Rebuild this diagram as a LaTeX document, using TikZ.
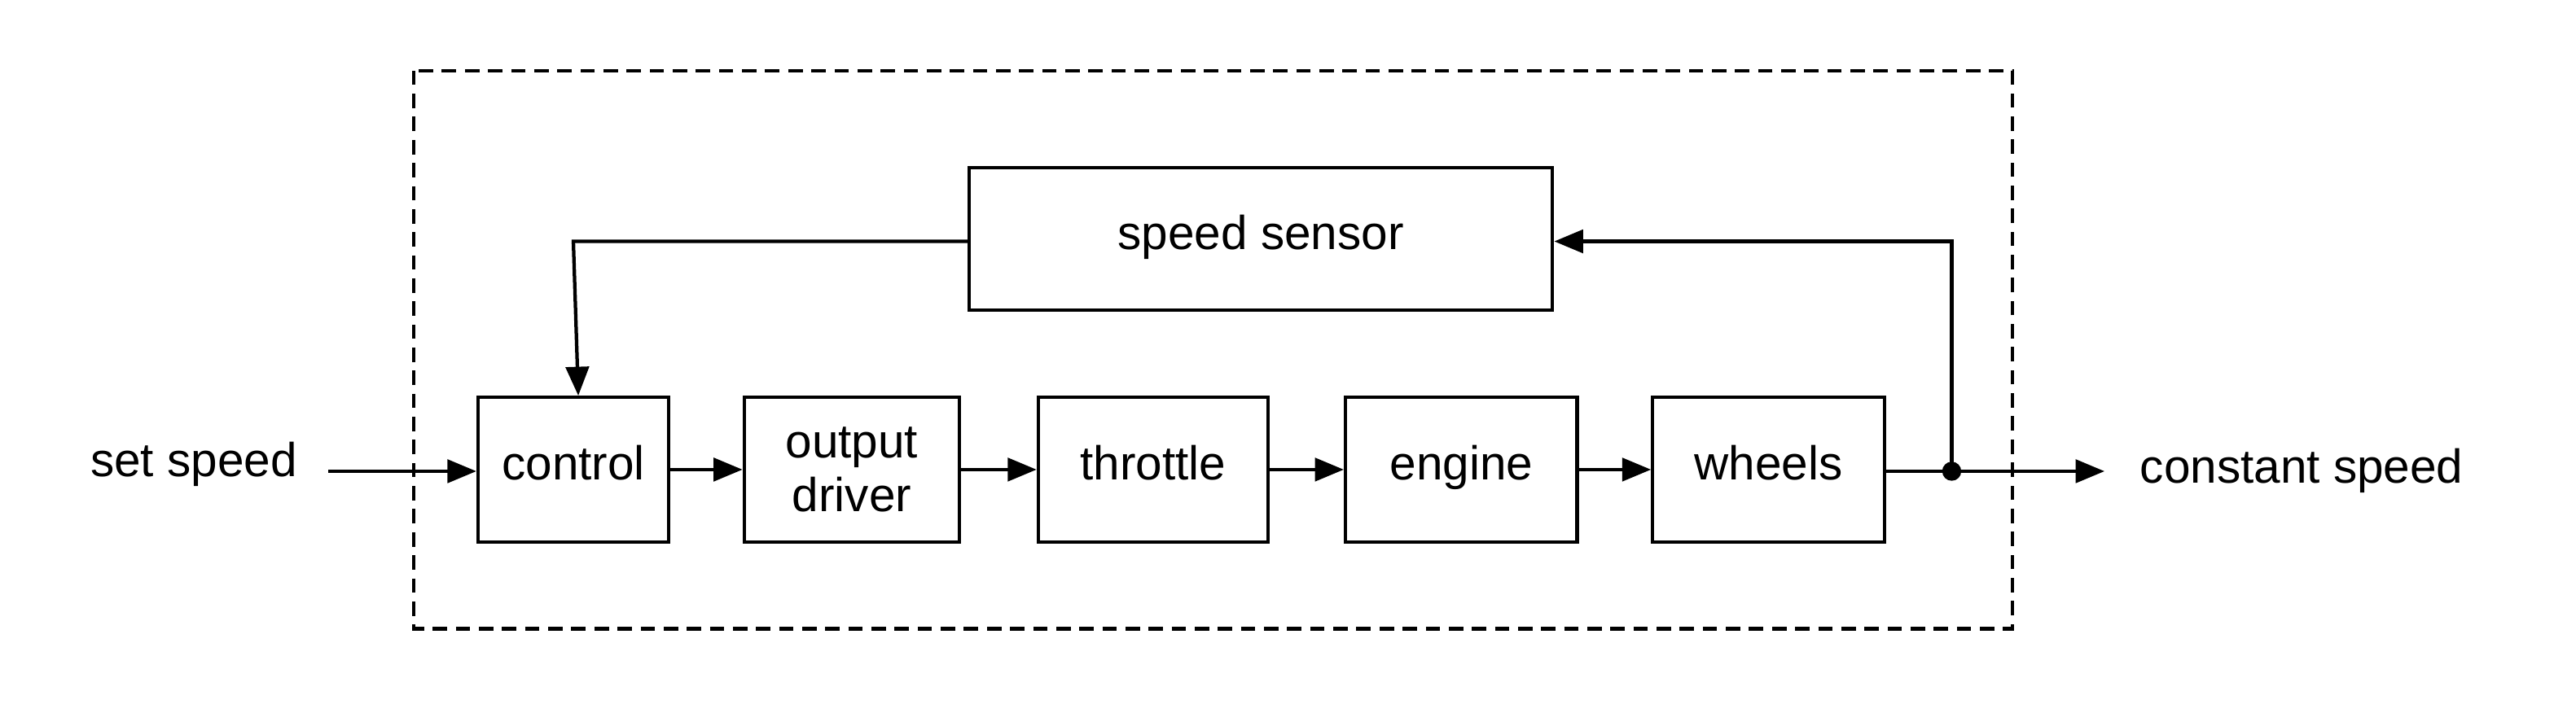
\documentclass[tikz,border=0pt]{standalone}
\usepackage{fontspec}
\setmainfont{Liberation Sans}
\usetikzlibrary{arrows.meta}
\begin{document}
\begin{tikzpicture}[x=0.02cm,y=-0.02cm,
  blk/.style={draw,line width=1.2pt,inner sep=0pt,font=\fontsize{16.5}{18.5}\selectfont,align=center},
  one/.style={text height=0.72em,text depth=0em},
  lbl/.style={font=\fontsize{16.5}{18.5}\selectfont},
  ln/.style={line width=1.2pt},
  arr/.style={ln,-{Triangle[length=10pt,width=8pt]}}]
\useasboundingbox (0,0) rectangle (1568,434);
\draw[line width=1.2pt,dash pattern=on 5pt off 3pt] (252,43) rectangle (1225,383);
\node[blk,one,minimum width=355*0.02cm,minimum height=87*0.02cm] (ss) at (767.5,145.5) {speed sensor};
\node[blk,one,minimum width=116*0.02cm,minimum height=88*0.02cm] (c) at (349,286) {control};
\node[blk,minimum width=131*0.02cm,minimum height=88*0.02cm] (o) at (518.5,286) {output\\driver};
\node[blk,one,minimum width=140*0.02cm,minimum height=88*0.02cm] (t) at (702,286) {throttle};
\node[blk,one,minimum width=141*0.02cm,minimum height=88*0.02cm] (e) at (889.5,286) {engine};
\node[blk,one,minimum width=141*0.02cm,minimum height=88*0.02cm] (w) at (1076.5,286) {wheels};
\node[lbl,one] (in) at (118,284) {set speed};
\node[lbl,one] (out) at (1401,288) {constant speed};
\coordinate (a0) at (200,287);
\coordinate (a1) at (1281,287);
\coordinate (d) at (1188,287);
\coordinate (u) at (1188,147);
\coordinate (k) at (349,147);
\draw[arr] (a0) -- (c.west|-a0);
\draw[arr] (c) -- (o);
\draw[arr] (o) -- (t);
\draw[arr] (t) -- (e);
\draw[arr] (e) -- (w);
\draw[arr] (w.east|-d) -- (a1);
\fill (d) circle (3.3pt);
\draw[arr] (d) -- (u) -- (ss.east|-u);
\draw[arr] (ss.west|-k) -- (k) -- ([xshift=3*0.02cm]c.north);
\end{tikzpicture}
\end{document}
